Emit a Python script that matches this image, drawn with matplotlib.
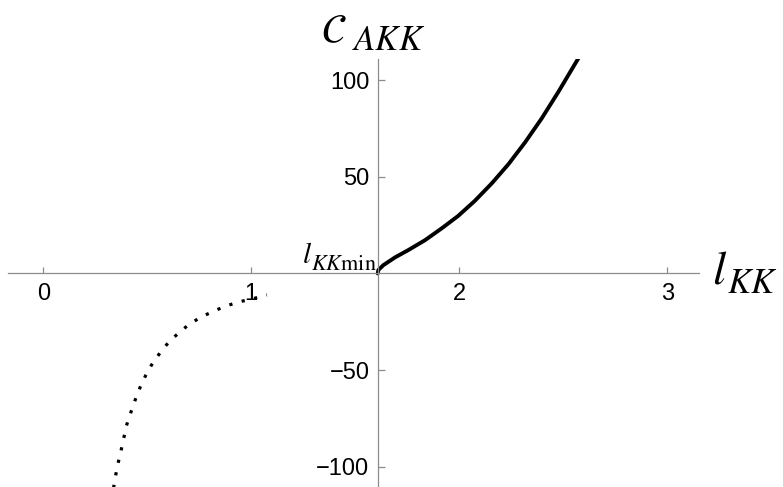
import numpy as np
import matplotlib
matplotlib.use("Agg")
import matplotlib.pyplot as plt

plt.rcParams['font.family'] = ['Liberation Sans', 'DejaVu Sans']
plt.rcParams['mathtext.fontset'] = 'stix'

# values
l_min = 1.608

# upper branch (solid), l_KK > l_min
l_up = [1.608, 1.611, 1.635, 1.691, 1.755, 1.835, 1.915, 1.995, 2.075,
        2.156, 2.236, 2.316, 2.396, 2.476, 2.554, 2.590]
c_up = [0.0, 1.8, 4.3, 8.3, 12.1, 17.2, 23.3, 29.8, 37.6,
        46.6, 56.5, 67.8, 80.2, 93.9, 108.0, 114.5]

# lower branch (dotted)
l_low = [0.338, 0.344, 0.357, 0.372, 0.386, 0.400, 0.420, 0.442, 0.466,
         0.493, 0.525, 0.564, 0.605, 0.653, 0.704, 0.760, 0.819, 0.880,
         0.941, 1.000, 1.075]
c_low = [-111.0, -106.8, -99.3, -92.6, -85.7, -78.7, -72.2, -65.4, -58.8,
         -52.6, -46.5, -40.7, -35.3, -30.6, -26.1, -22.5, -19.5, -16.8,
         -14.7, -13.3, -11.1]

x_ticks = [0, 1, 2, 3]
y_ticks = [-100, -50, 50, 100]

W, H = 783, 487
fig = plt.figure(figsize=(W / 100, H / 100), dpi=100)
ax = fig.add_axes([0.0101, 0.0, 0.882, 0.879])

ax.plot(l_up, c_up, color='black', lw=2.8, solid_capstyle='round')
ax.plot(l_low, c_low, color='black', lw=2.3, linestyle=(0, (1, 3)),
        dash_capstyle='butt')

ax.set_xlim(-0.17, 3.15)
ax.set_ylim(-110.5, 111)

axis_col = '#8c8c8c'
ax.spines['top'].set_visible(False)
ax.spines['right'].set_visible(False)
ax.spines['left'].set_position(('data', l_min))
ax.spines['bottom'].set_position(('data', 0))
for s in ('left', 'bottom'):
    ax.spines[s].set_color(axis_col)
    ax.spines[s].set_linewidth(0.9)

ax.set_xticks(x_ticks)
ax.set_yticks(y_ticks)
ax.tick_params(axis='both', direction='in', color=axis_col, width=0.9,
               labelsize=17, labelcolor='black')
ax.tick_params(axis='x', length=4.5, pad=7)
ax.tick_params(axis='y', length=5, pad=6)
ax.patch.set_visible(False)


def label(x, y, s, size):
    # x, y in pixels from the top-left corner, y is the baseline
    fig.text(x / W, 1 - y / H, s, fontsize=size, ha='left', va='baseline')


# x axis label l_KK
label(712, 283, r'$l$', 34)
label(727, 293, r'$KK$', 25)

# y axis label C_AKK
label(321, 42, r'$\mathcal{C}$', 29)
label(352, 50, r'$AKK$', 25)

# l_KK,min next to the vertical axis
label(302, 263, r'$l$', 21)
label(311, 270, r'$KK\mathrm{min}$', 16)

fig.savefig('out.png', dpi=100)
